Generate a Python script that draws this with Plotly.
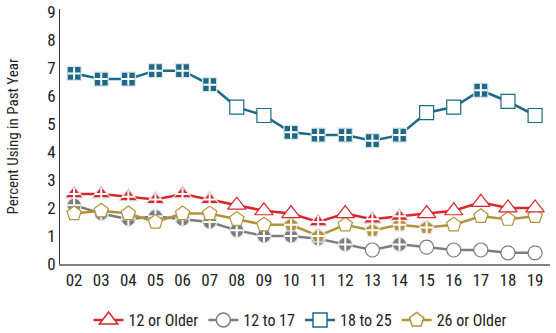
import plotly.graph_objects as go

years = ["02","03","04","05","06","07","08","09","10","11","12","13","14","15","16","17","18","19"]
x_pos = list(range(2, 20))

s12_older = [2.5, 2.5, 2.4, 2.3, 2.5, 2.3, 2.1, 1.9, 1.8, 1.5, 1.8, 1.6, 1.7, 1.8, 1.9, 2.2, 2.0, 2.0]
s12_17 =    [2.1, 1.8, 1.6, 1.7, 1.6, 1.5, 1.2, 1.0, 1.0, 0.9, 0.7, 0.5, 0.7, 0.6, 0.5, 0.5, 0.4, 0.4]
s18_25 =    [6.8, 6.6, 6.6, 6.9, 6.9, 6.4, 5.6, 5.3, 4.7, 4.6, 4.6, 4.4, 4.6, 5.4, 5.6, 6.2, 5.8, 5.3]
s26_older = [1.8, 1.9, 1.8, 1.5, 1.8, 1.8, 1.6, 1.4, 1.4, 1.0, 1.4, 1.2, 1.4, 1.3, 1.4, 1.7, 1.6, 1.7]

# 1 = significantly different from 2019 (filled marker with plus)
f12_older = [1,1,1,1,1,1,0,0,0,1,0,1,1,0,0,0,0,0]
f12_17 =    [1,1,1,1,1,1,1,1,1,1,1,0,1,0,0,0,0,0]
f18_25 =    [1,1,1,1,1,1,0,0,1,1,1,1,1,0,0,1,0,0]
f26_older = [0,0,0,0,0,0,0,0,1,1,0,1,1,1,0,0,0,0]

names = ["12 or Older", "12 to 17", "18 to 25", "26 or Older"]
colors = {"12 or Older": "#D8272E", "12 to 17": "#7D7D7F", "18 to 25": "#1E6A86", "26 or Older": "#B4923A"}
symbols = {"12 or Older": "triangle-up", "12 to 17": "circle", "18 to 25": "square", "26 or Older": "pentagon"}
sizes = {"12 or Older": 16, "12 to 17": 14, "18 to 25": 14, "26 or Older": 15}
data = {"12 or Older": (s12_older, f12_older), "12 to 17": (s12_17, f12_17),
        "18 to 25": (s18_25, f18_25), "26 or Older": (s26_older, f26_older)}

FONT = "Liberation Sans Narrow, Arial Narrow, Roboto Condensed, Liberation Sans, sans-serif"

fig = go.Figure()
draw_order = ["12 to 17", "26 or Older", "12 or Older", "18 to 25"]
for nm in draw_order:
    vals, flags = data[nm]
    c = colors[nm]
    fig.add_trace(go.Scatter(
        x=x_pos, y=vals, mode="lines+markers", showlegend=False,
        line=dict(color=c, width=2.5),
        marker=dict(symbol=symbols[nm], size=sizes[nm],
                    color=[c if f else "white" for f in flags],
                    line=dict(color=["#DDE6EA" if f else c for f in flags], width=1.2)),
        hoverinfo="skip"))
    px = [x for x, f in zip(x_pos, flags) if f]
    py = [v for v, f in zip(vals, flags) if f]
    fig.add_trace(go.Scatter(
        x=px, y=py, mode="markers", showlegend=False,
        marker=dict(symbol="cross-thin", size=9, line=dict(color="white", width=2)),
        hoverinfo="skip"))

for i, nm in enumerate(names):
    c = colors[nm]
    fig.add_trace(go.Scatter(
        x=[None], y=[None], mode="lines+markers", name=nm, legendrank=i + 1,
        line=dict(color=c, width=2.5),
        marker=dict(symbol=symbols[nm], size=sizes[nm], color="white", line=dict(color=c, width=1.5))))

fig.update_layout(
    width=556, height=333,
    margin=dict(l=60, r=6, t=9, b=69, autoexpand=False),
    paper_bgcolor="white", plot_bgcolor="white",
    font=dict(family=FONT, size=16, color="#222"),
    showlegend=True,
    legend=dict(orientation="h", x=0.49, xanchor="center", y=-0.22, yanchor="middle",
                font=dict(size=16), itemwidth=30, traceorder="normal"),
)
fig.update_xaxes(range=[1.48, 19.55], tickmode="array", tickvals=x_pos, ticktext=years,
                 showgrid=False, zeroline=False, showline=True, linecolor="#808080", linewidth=1.5,
                 ticks="", tickfont=dict(size=17), ticklabelstandoff=0)
fig.update_yaxes(range=[0, 9.1], tickvals=list(range(10)), showgrid=False, zeroline=False,
                 showline=True, linecolor="#333", linewidth=1, ticks="",
                 title=dict(text="Percent Using in Past Year", font=dict(size=15), standoff=24),
                 tickfont=dict(size=17))

fig.write_html("out.html")
